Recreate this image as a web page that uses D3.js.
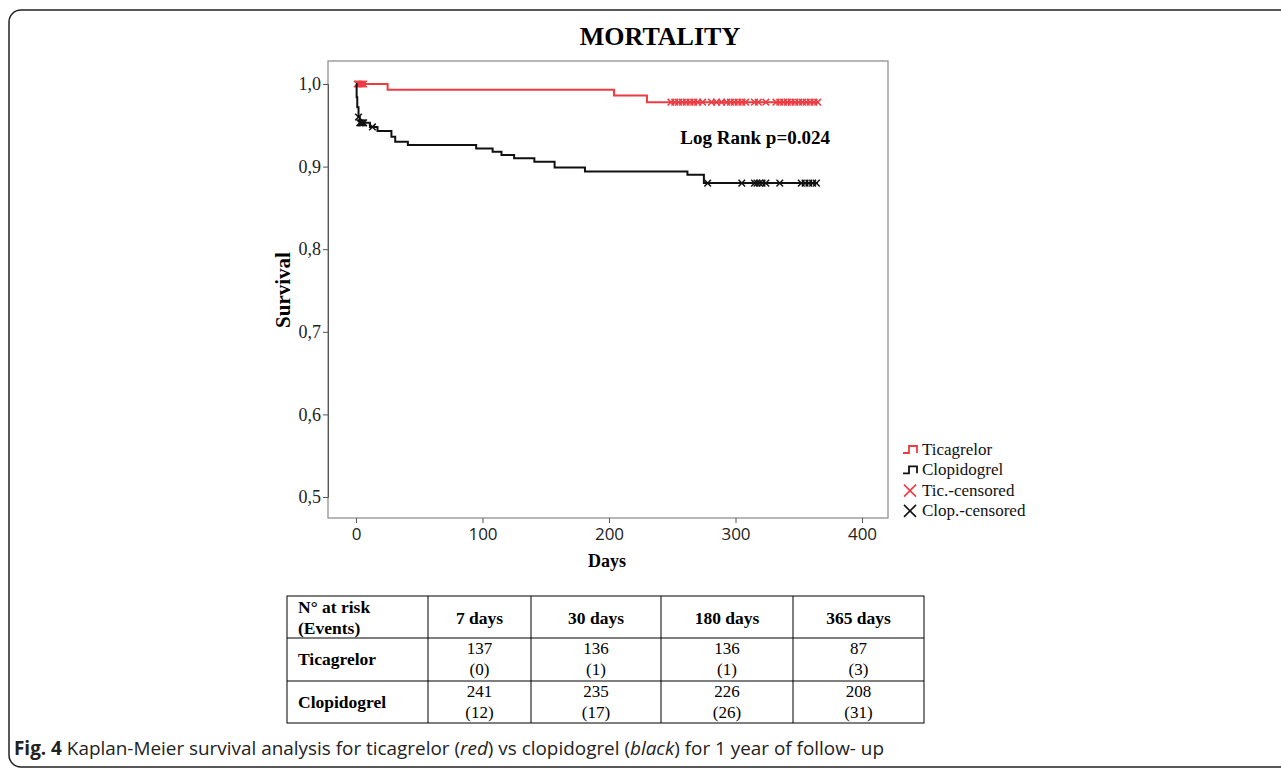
<!DOCTYPE html>
<html>
<head>
<meta charset="utf-8">
<script src="https://cdn.jsdelivr.net/npm/d3@7"></script>
<style>
  body { margin: 0; background: #fff; }
  svg { display: block; }
  .serif { font-family: "Liberation Serif", "Times New Roman", serif; }
</style>
</head>
<body>
<div id="chart"></div>
<script>
// Kaplan-Meier steps
const ticTimes = [0, 25, 204, 230, 365];
const ticSurv = [1, 0.993, 0.986, 0.978, 0.978];
const ticCensored = [1, 2, 3, 4, 5, 6, 249, 252, 255, 258, 261, 264, 267, 270, 274, 281, 285, 289,
  293, 296, 299, 302, 305, 308, 315, 318, 324, 332, 335, 338, 341, 344, 347, 350, 353, 356, 359, 362, 365];

const clopTimes = [0, 0.5, 1, 2, 3, 11, 17, 28, 31, 41, 95, 108, 115, 125, 141, 157, 181, 262, 275, 365];
const clopSurv = [1, 0.984, 0.972, 0.960, 0.953, 0.948, 0.943, 0.936, 0.930, 0.926, 0.922, 0.918,
  0.914, 0.910, 0.906, 0.899, 0.894, 0.890, 0.880, 0.880];
const clopCensored = [2, 3, 4, 5, 6, 13, 278, 305, 315, 317, 319, 321, 324, 335, 352, 355, 358, 361, 364];

const xTicks = [0, 100, 200, 300, 400];
const yTicks = [0.5, 0.6, 0.7, 0.8, 0.9, 1.0];

const legendLabels = ["Ticagrelor", "Clopidogrel", "Tic.-censored", "Clop.-censored"];

const tableCols = ["7 days", "30 days", "180 days", "365 days"];
const tableRows = ["Ticagrelor", "Clopidogrel"];
const ticRisk = [137, 136, 136, 87];
const ticEvents = [0, 1, 1, 3];
const clopRisk = [241, 235, 226, 208];
const clopEvents = [12, 17, 26, 31];

const red = "#ee3b42";
const black = "#111";

const W = 1281, H = 768;
const svg = d3.select("#chart").append("svg")
  .attr("width", W)
  .attr("height", H);

// outer rounded frame of the figure panel
svg.append("rect")
  .attr("x", 9).attr("y", 10)
  .attr("width", 1320).attr("height", 757)
  .attr("rx", 12)
  .attr("fill", "none")
  .attr("stroke", "#222")
  .attr("stroke-width", 1.5);

const box = { left: 328, top: 61, right: 888, bottom: 518 };

const x = d3.scaleLinear().domain([0, 400]).range([356, 862]);
const y = d3.scaleLinear().domain([0.5, 1.0]).range([497, 84]);

svg.append("text")
  .attr("class", "serif")
  .attr("x", 660).attr("y", 45)
  .attr("text-anchor", "middle")
  .attr("font-size", 26)
  .attr("font-weight", "bold")
  .text("MORTALITY");

// plot box
svg.append("rect")
  .attr("x", box.left).attr("y", box.top)
  .attr("width", box.right - box.left).attr("height", box.bottom - box.top)
  .attr("fill", "none")
  .attr("stroke", "#888")
  .attr("stroke-width", 1.2);

const yAxis = svg.append("g")
  .attr("transform", `translate(${box.left},0)`)
  .call(d3.axisLeft(y).tickValues(yTicks).tickSize(5).tickPadding(2)
    .tickFormat(d => d3.format(".1f")(d).replace(".", ",")));
yAxis.select(".domain").attr("stroke", "#555");
yAxis.selectAll(".tick line").attr("stroke", "#555");
yAxis.selectAll("text")
  .attr("class", "serif")
  .attr("font-size", 18)
  .attr("fill", "#222");

const xAxis = svg.append("g")
  .attr("transform", `translate(0,${box.bottom})`)
  .call(d3.axisBottom(x).tickValues(xTicks).tickSize(5).tickPadding(5));
xAxis.select(".domain").remove();
xAxis.selectAll(".tick line").attr("stroke", "#555");
xAxis.selectAll("text")
  .attr("font-family", "'Open Sans', sans-serif")
  .attr("font-size", 17)
  .attr("fill", "#222");

svg.append("text")
  .attr("class", "serif")
  .attr("x", 607).attr("y", 567)
  .attr("text-anchor", "middle")
  .attr("font-size", 18)
  .attr("font-weight", "bold")
  .text("Days");

svg.append("text")
  .attr("class", "serif")
  .attr("transform", "translate(290,290) rotate(-90)")
  .attr("text-anchor", "middle")
  .attr("font-size", 21)
  .attr("font-weight", "bold")
  .text("Survival");

svg.append("text")
  .attr("class", "serif")
  .attr("x", 830).attr("y", 144)
  .attr("text-anchor", "end")
  .attr("font-size", 19)
  .attr("font-weight", "bold")
  .text("Log Rank p=0.024");

const stepLine = d3.line()
  .x(d => x(d[0]))
  .y(d => y(d[1]))
  .curve(d3.curveStepAfter);

function survAt(times, surv, t) {
  const i = d3.bisectRight(times, t) - 1;
  return surv[Math.max(0, i)];
}

function drawCurve(times, surv, censored, color) {
  svg.append("path")
    .datum(d3.zip(times, surv))
    .attr("fill", "none")
    .attr("stroke", color)
    .attr("stroke-width", 2)
    .attr("d", stepLine);

  const s = 3.3;
  svg.append("g").selectAll("path")
    .data(censored)
    .join("path")
    .attr("transform", d => `translate(${x(d)},${y(survAt(times, surv, d))})`)
    .attr("d", `M${-s},${-s}L${s},${s}M${-s},${s}L${s},${-s}`)
    .attr("stroke", color)
    .attr("stroke-width", 1.5);
}

drawCurve(ticTimes, ticSurv, ticCensored, red);
drawCurve(clopTimes, clopSurv, clopCensored, black);

// legend
const legend = svg.append("g").attr("transform", "translate(903,449)");
const legColors = [red, black, red, black];
legendLabels.forEach((label, i) => {
  const g = legend.append("g").attr("transform", `translate(0,${i * 20.3})`);
  if (i < 2) {
    g.append("path")
      .attr("d", "M0,4H6V-3H14V4")
      .attr("fill", "none")
      .attr("stroke", legColors[i])
      .attr("stroke-width", 1.8);
  } else {
    g.append("path")
      .attr("d", "M1,-5L13,7M1,7L13,-5")
      .attr("stroke", legColors[i])
      .attr("stroke-width", 1.6);
  }
  g.append("text")
    .attr("class", "serif")
    .attr("x", 19).attr("y", 6)
    .attr("font-size", 17)
    .attr("fill", "#111")
    .text(label);
});

// at-risk table
const colEdges = [287, 428, 531, 661, 793, 924];
const rowEdges = [596, 638, 681, 723];
const fs = 17.5;
const table = svg.append("g").attr("class", "serif").attr("fill", "#000");

table.append("rect")
  .attr("x", colEdges[0]).attr("y", rowEdges[0])
  .attr("width", colEdges[5] - colEdges[0]).attr("height", rowEdges[3] - rowEdges[0])
  .attr("fill", "none").attr("stroke", "#000").attr("stroke-width", 1);
colEdges.slice(1, -1).forEach(cx => {
  table.append("line")
    .attr("x1", cx).attr("x2", cx).attr("y1", rowEdges[0]).attr("y2", rowEdges[3])
    .attr("stroke", "#000");
});
rowEdges.slice(1, -1).forEach(ry => {
  table.append("line")
    .attr("x1", colEdges[0]).attr("x2", colEdges[5]).attr("y1", ry).attr("y2", ry)
    .attr("stroke", "#000");
});

table.append("text").attr("x", 298).attr("y", 613)
  .attr("font-size", fs).attr("font-weight", "bold").text("N° at risk");
table.append("text").attr("x", 298).attr("y", 634)
  .attr("font-size", fs).attr("font-weight", "bold").text("(Events)");

tableCols.forEach((c, i) => {
  table.append("text")
    .attr("x", (colEdges[i + 1] + colEdges[i + 2]) / 2).attr("y", 624)
    .attr("text-anchor", "middle")
    .attr("font-size", fs).attr("font-weight", "bold")
    .text(c);
});

const rowData = [[ticRisk, ticEvents], [clopRisk, clopEvents]];
tableRows.forEach((r, j) => {
  const top = rowEdges[j + 1];
  table.append("text").attr("x", 298).attr("y", top + 27)
    .attr("font-size", fs).attr("font-weight", "bold").text(r);
  rowData[j][0].forEach((v, i) => {
    const cx = (colEdges[i + 1] + colEdges[i + 2]) / 2;
    table.append("text").attr("x", cx).attr("y", top + 16)
      .attr("text-anchor", "middle").attr("font-size", 17).text(v);
    table.append("text").attr("x", cx).attr("y", top + 37)
      .attr("text-anchor", "middle").attr("font-size", 17).text(`(${rowData[j][1][i]})`);
  });
});

// caption
const cap = svg.append("text")
  .attr("x", 14).attr("y", 755)
  .attr("font-family", "'Open Sans', sans-serif")
  .attr("font-size", 19)
  .attr("fill", "#222")
  .attr("textLength", 870)
  .attr("lengthAdjust", "spacingAndGlyphs");
cap.append("tspan").attr("font-weight", "bold").text("Fig. 4");
cap.append("tspan").text(" Kaplan-Meier survival analysis for ticagrelor (");
cap.append("tspan").attr("font-style", "italic").text("red");
cap.append("tspan").text(") vs clopidogrel (");
cap.append("tspan").attr("font-style", "italic").text("black");
cap.append("tspan").text(") for 1 year of follow- up");
</script>
</body>
</html>
